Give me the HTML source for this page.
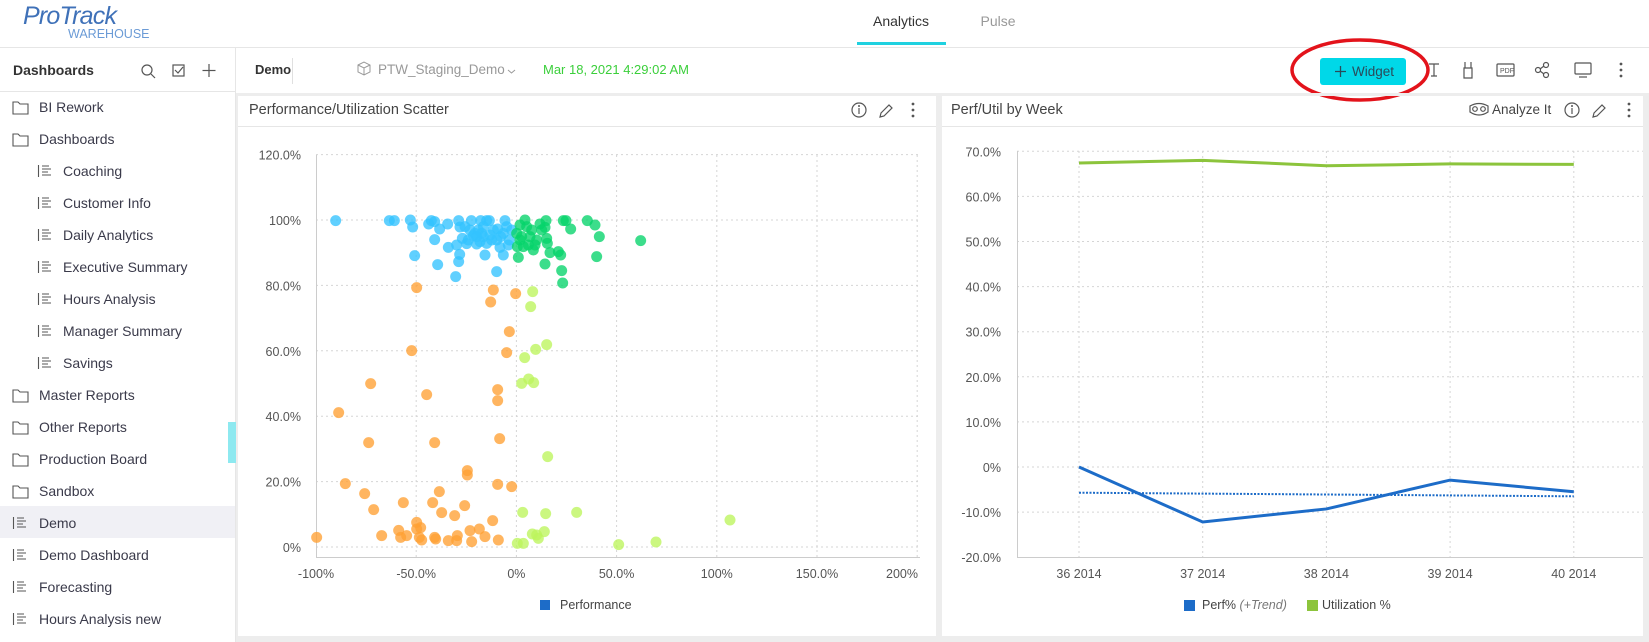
<!DOCTYPE html>
<html><head><meta charset="utf-8"><style>
html,body{margin:0;padding:0;width:1649px;height:642px;overflow:hidden;background:#fff;font-family:"Liberation Sans",Arial,sans-serif}
svg text{font-family:"Liberation Sans",Arial,sans-serif}
</style></head><body>
<svg id="s" width="1649" height="642" viewBox="0 0 1649 642" xmlns="http://www.w3.org/2000/svg">
<rect x="0" y="0" width="1649" height="642" fill="#fff"/>
<!-- header -->
<text x="23" y="24" font-size="25" fill="#3f71b8" letter-spacing="-0.8" font-style="italic">ProTrack</text>
<text x="68" y="38" font-size="12.5" fill="#6b9bd6">WAREHOUSE</text>
<text x="901" y="26" font-size="14" fill="#333" text-anchor="middle">Analytics</text>
<rect x="857" y="42" width="89" height="3" fill="#1fd1e0"/>
<text x="998" y="26" font-size="14" fill="#999" text-anchor="middle">Pulse</text>
<line x1="0" y1="47.5" x2="1649" y2="47.5" stroke="#e6e6e6"/>
<!-- sidebar -->
<rect x="235" y="48" width="1" height="594" fill="#e6e6e6"/>
<text x="13" y="75" font-size="14" font-weight="bold" fill="#333">Dashboards</text>
<g stroke="#555" fill="none" stroke-width="1.2">
<circle cx="147" cy="70" r="5"/><line x1="151" y1="74" x2="155" y2="78"/>
<rect x="173" y="65" width="11" height="11"/><polyline points="175,70 178,73 183,67"/>
<line x1="209" y1="64" x2="209" y2="77"/><line x1="202.5" y1="70.5" x2="215.5" y2="70.5"/>
</g>
<line x1="0" y1="91.5" x2="235" y2="91.5" stroke="#e6e6e6"/>
<rect x="0" y="506" width="235" height="32" fill="#f0f0f5"/>
<rect x="228" y="422" width="8" height="41" fill="#8ee9f0"/>
<g id="side" font-size="14" fill="#3a3a4a"></g>
<!-- toolbar -->
<text x="255" y="74" font-size="13" font-weight="bold" fill="#333">Demo</text>
<line x1="292.5" y1="58" x2="292.5" y2="84" stroke="#e0e0e0"/>
<g stroke="#999" fill="none" stroke-width="1"><path d="M358 65 l6 -3 l6 3 v7 l-6 3 l-6 -3z M358 65 l6 3 l6 -3 M364 68 v7"/></g>
<text x="378" y="74" font-size="13.5" fill="#999">PTW_Staging_Demo</text>
<path d="M508 70 l3.5 3 l3.5 -3" stroke="#999" fill="none"/>
<text x="543" y="74" font-size="13" fill="#3bcf3b">Mar 18, 2021 4:29:02 AM</text>
<rect x="1320" y="58" width="86" height="27" rx="3" fill="#00d8e8"/>
<path d="M1335 71.5 h11 M1340.5 66 v11" stroke="#2a4a5a" stroke-width="1.3"/>
<text x="1352" y="76" font-size="13.5" fill="#2a4a5a">Widget</text>
<ellipse cx="1360" cy="70" rx="68" ry="30" fill="none" stroke="#e3131b" stroke-width="3.5"/>
<g stroke="#555" fill="none" stroke-width="1.2">
<path d="M1429 64 h10 M1434 64 v12 M1431 76 h6"/>
<path d="M1465 62 v6 h6 v-6 M1464 68 h8 v10 h-8z"/>
<rect x="1497" y="64" width="17" height="12" rx="1"/>
<circle cx="1538" cy="70" r="2.5"/><circle cx="1546" cy="65" r="2.5"/><circle cx="1546" cy="75" r="2.5"/><path d="M1540 69 l4 -3 M1540 71 l4 3"/>
<rect x="1575" y="63" width="16" height="11" rx="1"/><line x1="1579" y1="77" x2="1587" y2="77"/>
</g>
<text x="1500" y="73" font-size="7" fill="#555">PDF</text>
<g fill="#555"><circle cx="1621" cy="64" r="1.4"/><circle cx="1621" cy="70" r="1.4"/><circle cx="1621" cy="76" r="1.4"/></g>
<rect x="236" y="93" width="1413" height="3" fill="#ededed"/>
<rect x="236" y="93" width="2" height="549" fill="#ededed"/>
<rect x="936" y="93" width="6" height="549" fill="#ededed"/>
<rect x="1643" y="93" width="6" height="549" fill="#ededed"/>
<rect x="236" y="636" width="1413" height="6" fill="#ededed"/>
<text x="249" y="114" font-size="14.5" fill="#444">Performance/Utilization Scatter</text>
<line x1="238" y1="126.5" x2="936" y2="126.5" stroke="#e6e6e6"/>
<g stroke="#555" fill="none" stroke-width="1.2">
<circle cx="859" cy="110" r="7"/><line x1="859" y1="108" x2="859" y2="114"/>
<path d="M880 117 l1 -4 l8 -8 l3 3 l-8 8z"/>
<circle cx="1572" cy="110" r="7"/><line x1="1572" y1="108" x2="1572" y2="114"/>
<path d="M1593 117 l1 -4 l8 -8 l3 3 l-8 8z"/>
<path d="M1470 106 q9 -5 18 0 v6 q-9 6 -18 0z"/><circle cx="1475" cy="109" r="2.3"/><circle cx="1483" cy="109" r="2.3"/>
</g>
<g fill="#555"><circle cx="859" cy="106" r="1"/><circle cx="1572" cy="106" r="1"/>
<circle cx="913" cy="104" r="1.4"/><circle cx="913" cy="110" r="1.4"/><circle cx="913" cy="116" r="1.4"/>
<circle cx="1629" cy="104" r="1.4"/><circle cx="1629" cy="110" r="1.4"/><circle cx="1629" cy="116" r="1.4"/></g>
<text x="951" y="114" font-size="14.5" fill="#444">Perf/Util by Week</text>
<text x="1492" y="114" font-size="13.5" fill="#444">Analyze It</text>
<line x1="942" y1="126.5" x2="1643" y2="126.5" stroke="#e6e6e6"/>
<g id="sc"></g>
<g id="lc"></g>
</svg>
<script>
var NS="http://www.w3.org/2000/svg";
function el(p,t,a,txt){var e=document.createElementNS(NS,t);for(var k in a)e.setAttribute(k,a[k]);if(txt!=null)e.textContent=txt;p.appendChild(e);return e;}
var side=document.getElementById('side');
var items=[["BI Rework",0,"f"],["Dashboards",0,"o"],["Coaching",1],["Customer Info",1],["Daily Analytics",1],["Executive Summary",1],["Hours Analysis",1],["Manager Summary",1],["Savings",1],["Master Reports",0,"f"],["Other Reports",0,"f"],["Production Board",0,"f"],["Sandbox",0,"f"],["Demo",0,"l"],["Demo Dashboard",0,"l"],["Forecasting",0,"l"],["Hours Analysis new",0,"l"]];
items.forEach(function(it,i){var y=107+i*32;var tx=it[1]?63:39;var ix=it[1]?38:13;
el(side,'text',{x:tx,y:y+5},it[0]);
var g=el(side,'g',{stroke:'#555',fill:'none','stroke-width':'1.1'});
if(it[2]=='f'||it[2]=='o'){el(g,'path',{d:'M'+ix+' '+(y-5)+' h5 l2 2 h8 v10 h-15z'});}
else{el(g,'path',{d:'M'+(ix+0.5)+' '+(y-6)+' v12 M'+(ix+4)+' '+(y-5)+' h7 M'+(ix+4)+' '+(y-2)+' h9 M'+(ix+4)+' '+(y+1)+' h6 M'+(ix+4)+' '+(y+4)+' h9'});}
});
var sc=document.getElementById('sc');
for(var i=0;i<=6;i++){var y=547-i*65.4;el(sc,'line',{x1:316,x2:920,y1:y,y2:y,stroke:'#d5d5d5','stroke-dasharray':'2,3'});
el(sc,'text',{x:301,y:y+5,'font-size':'12.5',fill:'#555','text-anchor':'end'},i==0?'0%':i==5?'100%':(i*20)+'.0%');}
var xl=['-100%','-50.0%','0%','50.0%','100%','150.0%','200%'];
for(var i=0;i<=6;i++){var x=316+i*100.2;if(i>0)el(sc,'line',{x1:x,x2:x,y1:155,y2:557,stroke:'#d5d5d5','stroke-dasharray':'2,3'});
el(sc,'text',{x:i==6?918:x,y:578,'font-size':'12.5',fill:'#555','text-anchor':i==6?'end':'middle'},xl[i]);}
el(sc,'line',{x1:316.5,x2:316.5,y1:155,y2:557,stroke:'#ccc'});
el(sc,'line',{x1:316,x2:920,y1:557.5,y2:557.5,stroke:'#ccc'});
var P={
'#33c3ff':[[317,272],[478,272],[493,272],[541,270],[548,291],[554,377],[596,282],[604,272],[614,275],[614,329],[623,404],[629,297],[653,282],[655,352],[677,440],[686,272],[686,395],[689,373],[690,291],[697,325],[705,290],[710,341],[724,272],[730,317],[740,342],[745,300],[752,272],[760,320],[765,375],[770,272],[778,272],[785,330],[800,425],[803,297],[810,352],[820,375],[825,272],[830,290],[835,345],[740,320],[755,310],[770,340],[790,300],[812,320],[680,345],[720,300],[845,300],[838,330],[800,330],[715,330],[760,290],[735,310],[780,315],[820,310],[750,335]],
'#05d36a':[[865,382],[870,285],[885,270],[875,320],[895,345],[910,360],[905,300],[920,330],[930,282],[945,292],[948,272],[950,325],[952,340],[945,402],[960,368],[985,365],[992,375],[995,422],[998,459],[1000,272],[1008,272],[1022,297],[1072,272],[1095,285],[1108,320],[1100,380],[1232,332],[860,310],[880,350],[900,320],[915,345],[935,300],[870,330],[890,290],[862,350]],
'#ffa033':[[560,473],[790,480],[782,516],[857,491],[838,605],[545,662],[830,668],[422,761],[590,794],[803,779],[803,812],[326,848],[416,938],[614,938],[809,926],[712,1022],[712,1035],[346,1061],[803,1063],[845,1070],[404,1091],[628,1085],[431,1139],[520,1118],[608,1118],[635,1148],[704,1127],[674,1157],[788,1172],[260,1222],[455,1217],[506,1201],[512,1222],[560,1177],[560,1197],[572,1193],[568,1222],[575,1230],[614,1222],[617,1227],[655,1232],[682,1217],[680,1232],[720,1202],[725,1235],[748,1197],[765,1220],[805,1230],[530,1217]],
'#bdf55c':[[908,485],[902,530],[950,644],[917,658],[884,683],[875,760],[896,747],[911,758],[953,980],[878,1147],[947,1151],[1040,1147],[907,1212],[920,1215],[925,1225],[943,1205],[862,1240],[880,1240],[1166,1244],[1278,1236],[1500,1170]]};
for(var c in P)P[c].forEach(function(p){el(sc,'circle',{cx:230+p[0]/3,cy:130+p[1]/3,r:5.5,fill:c,'fill-opacity':'0.78'});});
el(sc,'rect',{x:540,y:600,width:10,height:10,fill:'#1d6cc8'});
el(sc,'text',{x:560,y:609,'font-size':'12.5',fill:'#444'},'Performance');
var lc=document.getElementById('lc');
var step=123.7;function Y(v){return 467-v*4.51;}
for(var i=-2;i<=7;i++){var y=Y(i*10);if(i>-2)el(lc,'line',{x1:1017,x2:1643,y1:y,y2:y,stroke:'#d5d5d5','stroke-dasharray':'2,3'});
el(lc,'text',{x:1001,y:y+5,'font-size':'12.5',fill:'#555','text-anchor':'end'},i==0?'0%':(i*10)+'.0%');}
var cats=['36 2014','37 2014','38 2014','39 2014','40 2014'];
for(var i=0;i<5;i++){var x=1079+i*step;el(lc,'line',{x1:x,x2:x,y1:151,y2:557,stroke:'#d5d5d5','stroke-dasharray':'2,3'});
el(lc,'text',{x:x,y:578,'font-size':'12.5',fill:'#555','text-anchor':'middle'},cats[i]);}
el(lc,'line',{x1:1017.5,x2:1017.5,y1:151,y2:557,stroke:'#ccc'});
el(lc,'line',{x1:1017,x2:1643,y1:557.5,y2:557.5,stroke:'#ccc'});
function pts(a){return a.map(function(v,i){return (1079+i*step)+','+Y(v);}).join(' ');}
el(lc,'polyline',{points:pts([67.4,68.0,66.8,67.2,67.1]),fill:'none',stroke:'#8cc43c','stroke-width':3});
el(lc,'polyline',{points:pts([-5.7,-5.9,-6.1,-6.3,-6.5]),fill:'none',stroke:'#1d6cc8','stroke-width':2,'stroke-dasharray':'2,1.5'});
el(lc,'polyline',{points:pts([0,-12.2,-9.3,-2.9,-5.5]),fill:'none',stroke:'#1d6cc8','stroke-width':3});
el(lc,'rect',{x:1184,y:600,width:11,height:11,fill:'#1d6cc8'});
var t=el(lc,'text',{x:1202,y:609,'font-size':'12.5',fill:'#444'},'Perf% ');
el(t,'tspan',{'font-style':'italic',fill:'#777'},'(+Trend)');
el(lc,'rect',{x:1307,y:600,width:11,height:11,fill:'#8cc43c'});
el(lc,'text',{x:1322,y:609,'font-size':'12.5',fill:'#444'},'Utilization %');
</script>
</body></html>
